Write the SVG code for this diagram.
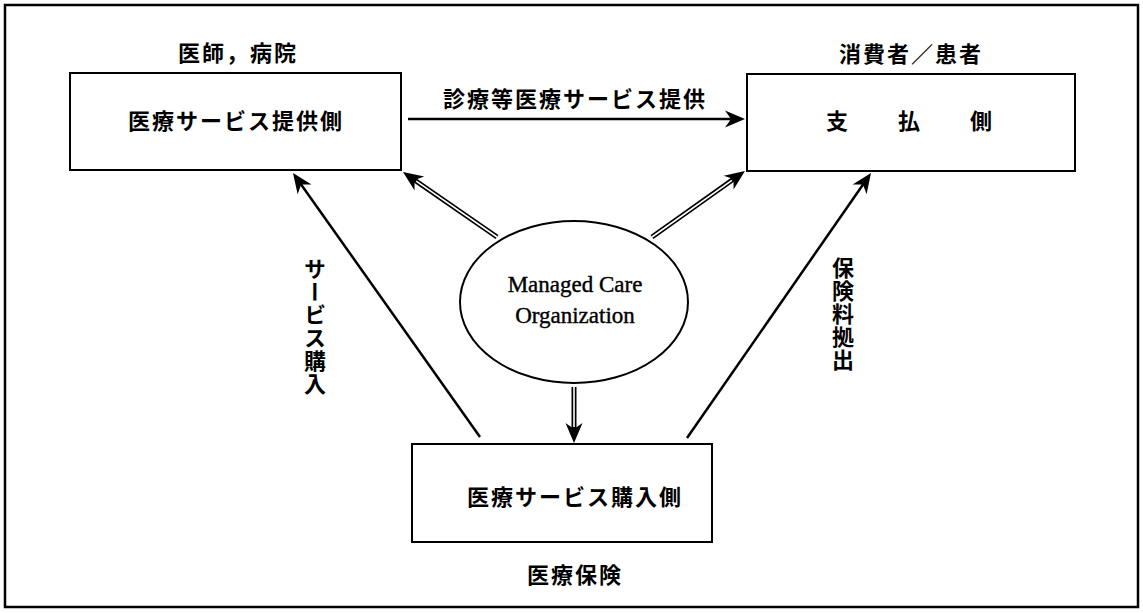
<svg xmlns="http://www.w3.org/2000/svg" width="1143" height="613" viewBox="0 0 1143 613">
<style>
.box{fill:#fff;stroke:#000;stroke-width:2}
.jp{font-family:"Noto Sans CJK JP","Noto Sans CJK SC",sans-serif;font-size:22px;fill:#000;font-weight:700;letter-spacing:2px}
.en{font-family:"Liberation Serif",serif;font-size:23px;fill:#000;stroke:#000;stroke-width:0.4}
.ar{stroke:#000;stroke-width:2.5;fill:none}
.dbl{stroke:#000;stroke-width:5;fill:none}
.dblin{stroke:#fff;stroke-width:1.6;fill:none}
</style>
<defs>
<marker id="head" viewBox="-12 -10 24 20" refX="0" refY="0" markerWidth="24" markerHeight="20" markerUnits="userSpaceOnUse" orient="auto">
<path d="M10,0 L-10,-8.5 L-4,0 L-10,8.5 Z" fill="#000"/>
</marker>
</defs>
<rect x="5" y="5" width="1133" height="602" fill="#fff" stroke="#000" stroke-width="2.5"/>
<g id="connectors">
<line class="ar" x1="408" y1="119" x2="735" y2="119" marker-end="url(#head)"/>
<line class="ar" x1="480" y1="437" x2="298.8" y2="181.2" marker-end="url(#head)"/>
<line class="ar" x1="687" y1="438" x2="865.3" y2="181.2" marker-end="url(#head)"/>
<line class="dbl" x1="497" y1="237" x2="411.2" y2="177.7" marker-end="url(#head)"/>
<line class="dblin" x1="497" y1="237" x2="416.2" y2="181.1"/>
<line class="dbl" x1="652" y1="237" x2="736.8" y2="176.8" marker-end="url(#head)"/>
<line class="dblin" x1="652" y1="237" x2="731.9" y2="180.3"/>
<line class="dbl" x1="574" y1="387" x2="574" y2="433" marker-end="url(#head)"/>
<line class="dblin" x1="574" y1="387" x2="574" y2="427"/>
<text class="jp" x="575" y="107" text-anchor="middle">診療等医療サービス提供</text>
<text class="jp" x="315" y="258" writing-mode="vertical-rl" style="letter-spacing:1px">サービス購入</text>
<text class="jp" x="843" y="257" writing-mode="vertical-rl" style="letter-spacing:1px">保険料拠出</text>
</g>
<g id="provider">
<rect class="box" x="70" y="73" width="331" height="97"/>
<text class="jp" x="236" y="129" text-anchor="middle">医療サービス提供側</text>
<text class="jp" x="238" y="61" text-anchor="middle">医師，病院</text>
</g>
<g id="payer">
<rect class="box" x="747" y="74" width="328" height="97"/>
<text class="jp" x="910" y="129" text-anchor="middle" xml:space="preserve">支　　払　　側</text>
<text class="jp" x="911" y="62" text-anchor="middle">消費者／患者</text>
</g>
<g id="mco">
<ellipse cx="574" cy="302" rx="114" ry="81" fill="#fff" stroke="#000" stroke-width="2"/>
<text class="en" x="575" y="292" text-anchor="middle">Managed Care</text>
<text class="en" x="575" y="323" text-anchor="middle">Organization</text>
</g>
<g id="purchaser">
<rect class="box" x="412" y="444" width="300" height="98"/>
<text class="jp" x="575" y="505" text-anchor="middle">医療サービス購入側</text>
<text class="jp" x="575" y="583" text-anchor="middle">医療保険</text>
</g>
</svg>
